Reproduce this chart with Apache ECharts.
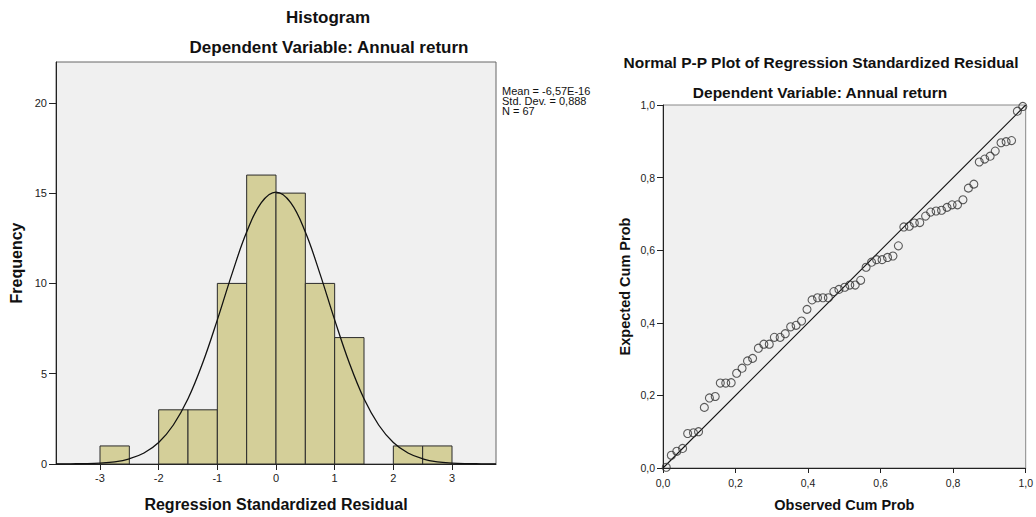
<!DOCTYPE html>
<html>
<head>
<meta charset="utf-8">
<script src="https://cdn.jsdelivr.net/npm/echarts@6/dist/echarts.min.js"></script>
<style>
html,body{margin:0;padding:0;background:#fff;}
#chart{width:1036px;height:517px;}
</style>
</head>
<body>
<div id="chart"></div>
<script>
// ---- Histogram data ----
const binStart = [-3, -2.5, -2, -1.5, -1, -0.5, 0, 0.5, 1, 1.5, 2, 2.5];
const binEnd   = [-2.5, -2, -1.5, -1, -0.5, 0, 0.5, 1, 1.5, 2, 2.5, 3];
const binCounts = [1, 0, 3, 3, 10, 16, 15, 10, 7, 0, 1, 1];
const histXTicks = [-3, -2, -1, 0, 1, 2, 3];
const histYTicks = [0, 5, 10, 15, 20];

// normal curve
const curveX = [-3.75, -3.5, -3.25, -3, -2.75, -2.5, -2.25, -2, -1.75, -1.5, -1.25, -1, -0.75, -0.5, -0.25, 0,
                0.25, 0.5, 0.75, 1, 1.25, 1.5, 1.75, 2, 2.25, 2.5, 2.75, 3, 3.25, 3.5, 3.75];
const curveY = [0.00, 0.01, 0.02, 0.05, 0.12, 0.29, 0.61, 1.19, 2.16, 3.61, 5.59, 7.98, 10.53, 12.84, 14.47, 15.05,
                14.47, 12.84, 10.53, 7.98, 5.59, 3.61, 2.16, 1.19, 0.61, 0.29, 0.12, 0.05, 0.02, 0.01, 0.00];

const statLines = ['Mean = -6,57E-16', 'Std. Dev. = 0,888', 'N = 67'];

// ---- P-P plot data ----
const ppObserved = [0.009,0.023,0.038,0.054,0.068,0.084,0.098,0.114,0.128,0.144,0.158,0.173,0.188,0.203,0.218,0.233,
  0.247,0.263,0.278,0.293,0.307,0.323,0.337,0.352,0.367,0.382,0.397,0.411,0.426,0.441,0.456,0.471,0.485,0.501,
  0.515,0.530,0.545,0.560,0.575,0.589,0.604,0.619,0.634,0.649,0.664,0.679,0.693,0.708,0.724,0.738,0.753,0.768,
  0.783,0.797,0.812,0.827,0.842,0.857,0.872,0.887,0.902,0.916,0.932,0.946,0.961,0.977,0.992];
const ppExpected = [0.002,0.035,0.046,0.054,0.095,0.097,0.100,0.167,0.193,0.197,0.234,0.234,0.235,0.261,0.275,0.295,
  0.302,0.330,0.341,0.341,0.360,0.360,0.370,0.389,0.393,0.405,0.437,0.463,0.469,0.469,0.469,0.486,0.492,0.498,
  0.504,0.504,0.517,0.553,0.567,0.574,0.574,0.580,0.584,0.612,0.664,0.666,0.675,0.676,0.694,0.705,0.708,0.710,
  0.718,0.725,0.725,0.739,0.771,0.782,0.843,0.851,0.859,0.873,0.896,0.899,0.902,0.983,0.996];
const refLine = [[0, 0], [1, 1]];

const FONT = 'Liberation Sans, Arial, sans-serif';
const fmtComma = v => v.toFixed(1).replace('.', ',');

const chart = echarts.init(document.getElementById('chart'), null, {renderer: 'svg'});

const histData = binStart.map((s, i) => [s, binEnd[i], binCounts[i]]).filter(d => d[2] > 0);
const curveData = curveX.map((x, i) => [x, curveY[i]]);
const ppData = ppObserved.map((x, i) => [x, ppExpected[i]]);

const axisCommon = {
  splitLine: {show: false},
  axisLine: {show: true, onZero: false, lineStyle: {color: '#222', width: 1}},
  nameTextStyle: {fontFamily: FONT, fontWeight: 'bold', color: '#111'}
};

chart.setOption({
  animation: false,
  backgroundColor: '#ffffff',
  textStyle: {fontFamily: FONT},
  grid: [
    {left: 56, top: 62, width: 440, height: 404, show: true, backgroundColor: '#f0f0f0', borderColor: '#666', borderWidth: 1},
    {left: 663, top: 105, width: 367, height: 366, show: true, backgroundColor: '#f0f0f0', borderColor: '#888', borderWidth: 1}
  ],
  xAxis: [
    Object.assign({}, axisCommon, {
      type: 'value', gridIndex: 0, min: -3.75, max: 3.75,
      name: 'Regression Standardized Residual', nameLocation: 'middle', nameGap: 32,
      nameTextStyle: {fontFamily: FONT, fontWeight: 'bold', fontSize: 16, color: '#111'},
      axisTick: {show: true, length: 6, lineStyle: {color: '#222'}, customValues: histXTicks},
      axisLabel: {fontSize: 11, color: '#222', margin: 8, customValues: histXTicks}
    }),
    Object.assign({}, axisCommon, {
      type: 'value', gridIndex: 1, min: 0, max: 1, interval: 0.2,
      name: 'Observed Cum Prob', nameLocation: 'middle', nameGap: 29,
      nameTextStyle: {fontFamily: FONT, fontWeight: 'bold', fontSize: 14.5, color: '#111'},
      axisTick: {show: true, length: 5, lineStyle: {color: '#222'}},
      axisLabel: {fontSize: 10.5, color: '#222', margin: 9, formatter: fmtComma}
    })
  ],
  yAxis: [
    Object.assign({}, axisCommon, {
      type: 'value', gridIndex: 0, min: 0, max: 22.26,
      name: 'Frequency', nameLocation: 'middle', nameGap: 32,
      nameTextStyle: {fontFamily: FONT, fontWeight: 'bold', fontSize: 16, color: '#111'},
      axisTick: {show: true, length: 7, lineStyle: {color: '#222'}, customValues: histYTicks},
      axisLabel: {fontSize: 11, color: '#222', margin: 9, customValues: histYTicks}
    }),
    Object.assign({}, axisCommon, {
      type: 'value', gridIndex: 1, min: 0, max: 1, interval: 0.2,
      name: 'Expected Cum Prob', nameLocation: 'middle', nameGap: 31,
      nameTextStyle: {fontFamily: FONT, fontWeight: 'bold', fontSize: 14.5, color: '#111'},
      axisTick: {show: true, length: 6, lineStyle: {color: '#222'}},
      axisLabel: {fontSize: 10.5, color: '#222', margin: 8, formatter: fmtComma}
    })
  ],
  graphic: [
    {type: 'text', x: 328, y: 17, style: {text: 'Histogram', textAlign: 'center', textVerticalAlign: 'middle', font: 'bold 17px ' + FONT, fill: '#111'}},
    {type: 'text', x: 329, y: 47, style: {text: 'Dependent Variable: Annual return', textAlign: 'center', textVerticalAlign: 'middle', font: 'bold 17px ' + FONT, fill: '#111'}},
    {type: 'text', x: 821, y: 62, style: {text: 'Normal P-P Plot of Regression Standardized Residual', textAlign: 'center', textVerticalAlign: 'middle', font: 'bold 15.5px ' + FONT, fill: '#111'}},
    {type: 'text', x: 820, y: 92, style: {text: 'Dependent Variable: Annual return', textAlign: 'center', textVerticalAlign: 'middle', font: 'bold 15.5px ' + FONT, fill: '#111'}},
    {type: 'text', x: 502, y: 86, style: {text: statLines.join('\n'), textAlign: 'left', textVerticalAlign: 'top', font: '11px ' + FONT, lineHeight: 10, fill: '#111'}}
  ],
  series: [
    {
      type: 'custom', xAxisIndex: 0, yAxisIndex: 0, data: histData,
      renderItem: function (params, api) {
        const p1 = api.coord([api.value(0), api.value(2)]);
        const p2 = api.coord([api.value(1), 0]);
        return {type: 'rect', shape: {x: p1[0], y: p1[1], width: p2[0] - p1[0], height: p2[1] - p1[1]},
                style: {fill: '#d4cf99', stroke: '#2a2a2a', lineWidth: 1}};
      },
      z: 2
    },
    {
      type: 'line', xAxisIndex: 0, yAxisIndex: 0, data: curveData, smooth: 0.4,
      showSymbol: false, symbol: 'none', lineStyle: {color: '#111', width: 1.3}, z: 3
    },
    {
      type: 'line', xAxisIndex: 1, yAxisIndex: 1, data: refLine, showSymbol: false, symbol: 'none',
      lineStyle: {color: '#111', width: 1.1}, z: 2
    },
    {
      type: 'scatter', xAxisIndex: 1, yAxisIndex: 1, data: ppData, symbol: 'circle', symbolSize: 8,
      itemStyle: {color: 'rgba(0,0,0,0)', borderColor: '#333', borderWidth: 1.1}, z: 3
    }
  ]
});
</script>
</body>
</html>
